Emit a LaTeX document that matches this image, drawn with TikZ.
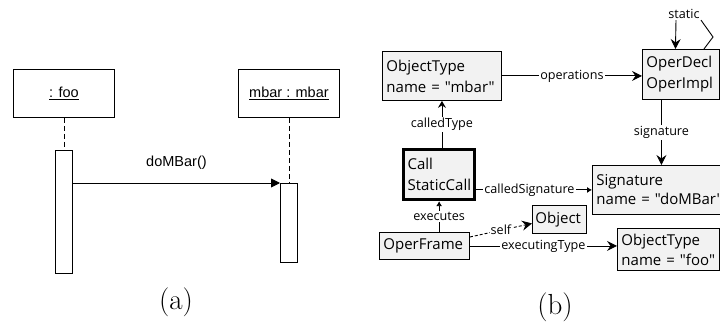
\documentclass[tikz,border=0pt]{standalone}
\usepackage{fontspec}
\newfontfamily\umlfont{Liberation Sans}
\newfontfamily\objfont{Open Sans}
\usetikzlibrary{arrows.meta}
\definecolor{boxfill}{HTML}{F2F2F2}
\begin{document}
\begin{tikzpicture}[x=1pt,y=-1pt,line width=0.9pt,
  lifebox/.style={draw,anchor=north west,minimum width=101pt,minimum height=48pt,
    font=\umlfont\fontsize{14.5}{16}\selectfont},
  actbox/.style={draw,fill=white,anchor=north west,minimum width=17pt},
  lifeline/.style={dash pattern=on 5pt off 3pt},
  objbox/.style={draw,fill=boxfill,anchor=north west,align=left,inner xsep=4pt,inner ysep=0pt,
    font=\objfont\fontsize{15}{21}\selectfont},
  lbl/.style={fill=white,inner sep=1pt,font=\objfont\fontsize{12.6}{14}\selectfont},
  arr/.style={-{Stealth[length=10pt,width=10pt,inset=3.5pt]}},
  arrs/.style={-{Stealth[length=7pt,width=8pt,inset=2.5pt]}},
  arrt/.style={-{Latex[length=5pt,width=6pt]}},
  caption/.style={font=\fontsize{29}{32}\selectfont}]
\useasboundingbox (0,0) rectangle (720,323);
\clip (0,0) rectangle (720,323);

% ---- sequence diagram ----
\node[lifebox] (foo) at (13,69) {\underline{: foo}};
\node[lifebox] (mbar) at (238,69) {\underline{mbar : mbar}};
\node[actbox,minimum height=123pt] (fooact) at (55,150) {};
\node[actbox,minimum height=79pt] (mbaract) at (280,183) {};
\draw[lifeline] (foo.south) -- (fooact.north);
\draw[lifeline] (mbar.south) -- (mbaract.north);
\draw[-{Triangle[length=9pt,width=9pt]}] (fooact.east |- mbaract.north west)
  -- node[above=10pt,font=\umlfont\fontsize{14.5}{16}\selectfont]{doMBar()} (mbaract.north west);
\node[caption] (capa) at (176,302) {(a)};

% ---- object diagram ----
\node[objbox,text width=111pt,minimum height=49pt] (otm) at (382,51) {ObjectType\\name = "mbar"};
\node[objbox,text width=69pt,minimum height=50pt] (oper) at (642,49) {OperDecl\\OperImpl};
\node[objbox,text width=63pt,minimum height=50pt,line width=3.2pt] (call) at (402,148) {Call\\StaticCall};
\node[objbox,text width=142pt,minimum height=49pt,font=\objfont\fontsize{15}{19}\selectfont] (sig) at (592,165) {Signature\\name = "doMBar"};
\node[objbox,text width=48pt,minimum height=28pt,inner xsep=3pt] (obj) at (532,205) {Object};
\node[objbox,text width=82pt,minimum height=27pt] (frame) at (379,232) {OperFrame};
\node[objbox,text width=94pt,minimum height=42pt,font=\objfont\fontsize{15}{20}\selectfont] (otf) at (617,228) {ObjectType\\name = "foo"};

\draw[arr] (otm.east) -- node[lbl]{operations} (otm.east -| oper.west);
\node[lbl,fill=none] (st) at (684,14) {static};
\draw ([xshift=23pt]oper.north) -- (713,37) -- (st.south east);
\draw[arr] ([xshift=-8pt]st.south) -- ([xshift=-5.5pt]oper.north);
\draw[arrs] (call.north -| otm.south) -- node[lbl]{calledType} (otm.south);
\draw[arr] ([xshift=-19.5pt]oper.south) -- node[lbl]{signature} ([xshift=-6pt]sig.north);
\draw[arrt] (call.east |- sig.west) -- node[lbl,pos=0.46]{calledSignature} (sig.west);
\draw[arrt] (frame.north -| call.south) -- node[lbl]{executes} (call.south);
\draw[arr,dash pattern=on 3pt off 2pt] ([yshift=-5pt]frame.north east) -- node[lbl]{self} ([yshift=-4pt]obj.west);
\draw[arr] (frame.east) -- node[lbl]{executingType} (frame.east -| otf.west);
\node[caption] (capb) at (555,307) {(b)};
\end{tikzpicture}
\end{document}
